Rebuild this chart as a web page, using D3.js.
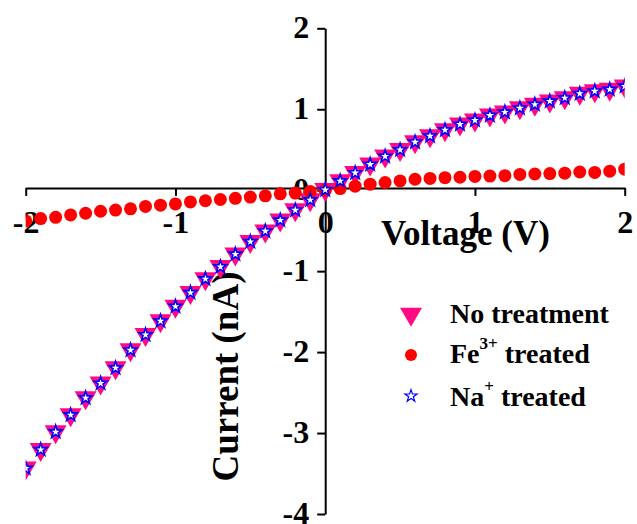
<!DOCTYPE html>
<html>
<head>
<meta charset="utf-8">
<script src="https://cdn.jsdelivr.net/npm/d3@7"></script>
<style>
  body { margin: 0; background: #fff; }
  svg text { font-family: "Times New Roman", "Liberation Serif", serif; font-weight: bold; fill: #000; }
</style>
</head>
<body>
<div id="chart"></div>
<script>
// voltage sweep, -2 V .. 2 V in 0.1 V steps
var voltage = d3.range(41).map(function(i) { return Math.round((-2 + i * 0.1) * 10) / 10; });

// current (nA) per treatment
var noTreatment = [-3.43, -3.2, -2.98, -2.77, -2.56, -2.38, -2.19, -1.97, -1.78, -1.61,
  -1.43, -1.26, -1.09, -0.94, -0.785, -0.63, -0.5, -0.365, -0.24, -0.115,
  0.01, 0.12, 0.22, 0.325, 0.425, 0.505, 0.6, 0.675, 0.75, 0.82,
  0.87, 0.93, 0.97, 1.02, 1.065, 1.105, 1.145, 1.2, 1.23, 1.25, 1.29];
var feTreated = [-0.38, -0.35, -0.335, -0.305, -0.285, -0.26, -0.245, -0.23, -0.2, -0.185,
  -0.17, -0.145, -0.13, -0.115, -0.1, -0.085, -0.07, -0.045, -0.035, -0.015,
  0.0, 0.02, 0.05, 0.075, 0.095, 0.115, 0.135, 0.145, 0.155, 0.16,
  0.17, 0.175, 0.18, 0.195, 0.2, 0.205, 0.21, 0.225, 0.22, 0.235, 0.26];
var naTreated = [-3.43, -3.2, -2.98, -2.77, -2.56, -2.38, -2.19, -1.97, -1.78, -1.61,
  -1.43, -1.26, -1.09, -0.94, -0.785, -0.63, -0.5, -0.365, -0.24, -0.115,
  0.01, 0.12, 0.22, 0.325, 0.425, 0.505, 0.6, 0.675, 0.75, 0.82,
  0.87, 0.93, 0.97, 1.02, 1.065, 1.105, 1.145, 1.2, 1.23, 1.25, 1.29];

var xTicks = [-2, -1, 0, 1, 2],
    xMinor = [-1.5, -0.5, 0.5, 1.5],
    yTicks = [2, 1, 0, -1, -2, -3, -4],
    yMinor = [1.5, 0.5, -0.5, -1.5, -2.5, -3.5];

var width = 637, height = 524;
var pink = "#ff0a84", red = "#ff0000", blue = "#0000ff";

var x = d3.scaleLinear().domain([-2, 2]).range([25.7, 624.7]);
var y = d3.scaleLinear().domain([-4, 2]).range([514, 28.3]);

var plain = function(d) { return String(d); }; // hyphen minus, like the original

var svg = d3.select("#chart").append("svg")
  .attr("width", width)
  .attr("height", height);

svg.append("defs").append("clipPath").attr("id", "plotclip")
  .append("rect")
  .attr("x", x(-2)).attr("y", 0)
  .attr("width", x(2) - x(-2)).attr("height", height);

var xAxisY = y(0) - 2.3;

// x axis (crosses at zero)
var gx = svg.append("g").attr("transform", "translate(0," + xAxisY + ")");
gx.call(d3.axisBottom(x).tickValues(xMinor).tickSize(4).tickSizeOuter(0).tickFormat(""));
gx.call(d3.axisBottom(x).tickValues(xTicks).tickSize(8).tickSizeOuter(0).tickFormat(plain));
gx.selectAll("text").attr("y", 233 - xAxisY).attr("dy", 0)
  .style("font-size", "32px");

// y axis
var gy = svg.append("g").attr("transform", "translate(" + x(0) + ",0)");
gy.call(d3.axisLeft(y).tickValues(yMinor).tickSize(4).tickSizeOuter(0).tickFormat(""));
gy.call(d3.axisLeft(y).tickValues(yTicks).tickSize(8).tickSizeOuter(0).tickFormat(plain));
gy.selectAll("text").attr("x", -16).attr("dy", "0.3em")
  .style("font-size", "32px");

svg.selectAll(".domain, .tick line").attr("stroke", "#000").attr("stroke-width", 2);
svg.selectAll(".tick text").attr("fill", "#000").attr("font-family", null);

// labels go under the axis lines
gx.selectAll(".tick text").lower();
gy.selectAll(".tick text").lower();

svg.append("text")
  .attr("x", 381).attr("y", 245)
  .style("font-size", "35px")
  .text("Voltage (V)");

svg.append("text")
  .attr("transform", "translate(238,376.5) rotate(-90)")
  .style("text-anchor", "middle")
  .style("font-size", "37px")
  .text("Current (nA)");

// markers
var triPath = "M-11,-6.3L11,-6.3L0,12.7Z";
var starPath = d3.symbol().type(d3.symbolStar).size(52)();

var plot = svg.append("g").attr("clip-path", "url(#plotclip)");

plot.append("g").selectAll("path")
  .data(voltage)
  .join("path")
  .attr("d", triPath)
  .attr("fill", pink)
  .attr("transform", function(v, i) { return "translate(" + x(v) + "," + y(noTreatment[i]) + ")"; });

plot.append("g").selectAll("circle")
  .data(voltage)
  .join("circle")
  .attr("cx", function(v) { return x(v); })
  .attr("cy", function(v, i) { return y(feTreated[i]); })
  .attr("r", 6.5)
  .attr("fill", red);

plot.append("g").selectAll("path")
  .data(voltage)
  .join("path")
  .attr("d", starPath)
  .attr("fill", "#fff")
  .attr("stroke", blue)
  .attr("stroke-width", 1.6)
  .attr("transform", function(v, i) { return "translate(" + x(v) + "," + (y(naTreated[i]) + 0.5) + ")"; });

// legend
var legend = svg.append("g");
legend.append("path").attr("d", triPath).attr("fill", pink)
  .attr("transform", "translate(411,314)");
legend.append("circle").attr("cx", 411).attr("cy", 355).attr("r", 6).attr("fill", red);
legend.append("path").attr("d", d3.symbol().type(d3.symbolStar).size(46)())
  .attr("fill", "#fff").attr("stroke", blue).attr("stroke-width", 1.2)
  .attr("transform", "translate(411,396)");

legend.append("text").attr("x", 450).attr("y", 323.3)
  .style("font-size", "28px").text("No treatment");

var t2 = legend.append("text").attr("x", 450).attr("y", 363.3).style("font-size", "28px");
t2.append("tspan").text("Fe");
t2.append("tspan").attr("dy", -14).style("font-size", "17px").text("3+");
t2.append("tspan").attr("dy", 14).text(" treated");

var t3 = legend.append("text").attr("x", 450).attr("y", 405.7).style("font-size", "28px");
t3.append("tspan").text("Na");
t3.append("tspan").attr("dy", -14).style("font-size", "17px").text("+");
t3.append("tspan").attr("dy", 14).text(" treated");
</script>
</body>
</html>
